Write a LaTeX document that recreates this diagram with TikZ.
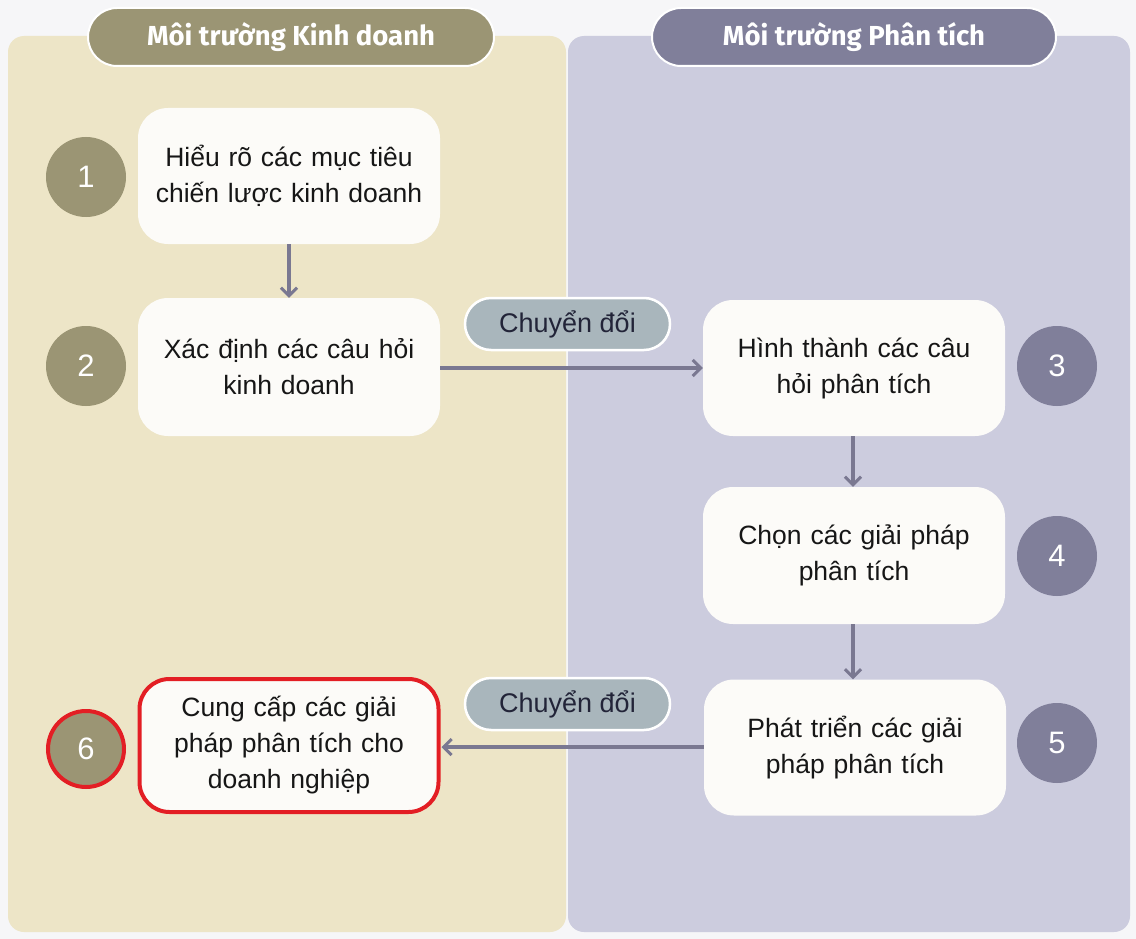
\documentclass[tikz,border=0pt]{standalone}
\usepackage{fontspec}
\setmainfont{Liberation Sans}
\newfontfamily\headfont{Fira Sans}
\usetikzlibrary{arrows.meta}
\definecolor{bgpage}{HTML}{F6F6F8}
\definecolor{leftpanel}{HTML}{EDE5C7}
\definecolor{rightpanel}{HTML}{CCCCDE}
\definecolor{olive}{HTML}{9B9574}
\definecolor{slate}{HTML}{807F9A}
\definecolor{boxwhite}{HTML}{FCFBF8}
\definecolor{pillfill}{HTML}{A9B6BC}
\definecolor{arrowc}{HTML}{7A7891}
\definecolor{hired}{HTML}{E31E24}
\definecolor{bodytext}{HTML}{161616}
\definecolor{pilltext}{HTML}{222438}
\tikzset{
  panel/.style={rounded corners=16pt, draw=none},
  header/.style={rounded corners=29pt, draw=white, line width=2pt, minimum width=406pt, minimum height=58pt,
     text=white, font=\headfont\bfseries\fontsize{27.5}{30}\selectfont, inner sep=0pt},
  stepbox/.style={rounded corners=30pt, fill=boxwhite, draw=none, minimum width=302pt, minimum height=136pt,
     text width=295pt, align=center, inner sep=0pt, text=bodytext, font=\fontsize{26.5}{36}\selectfont},
  numcirc/.style={circle, minimum size=80pt, inner sep=0pt, text=white, font=\fontsize{31}{31}\selectfont},
  pill/.style={rounded corners=26pt, fill=pillfill, draw=white, line width=2.5pt, minimum width=205pt, minimum height=52pt,
     inner sep=0pt, text=pilltext, font=\fontsize{27}{30}\selectfont},
  flow/.style={draw=arrowc, line width=3.2pt, -{Straight Barb[length=8pt,width=16pt,line width=3pt]}},
}
\begin{document}
\begin{tikzpicture}[x=1pt,y=-1pt]
\useasboundingbox (0,0) rectangle (1136,939);
\fill[bgpage] (0,0) rectangle (1136,939);
% panels
\path[panel, fill=leftpanel] (8,36) rectangle (566,932);
\path[panel, fill=rightpanel] (568,36) rectangle (1130,932);
% headers
\node[header, fill=olive] (hL) at (291,37) {Môi trường Kinh doanh};
\node[header, fill=slate, minimum width=404pt] (hR) at (854,37) {Môi trường Phân tích};
% boxes
\node[stepbox] (b1) at (289,176) {Hiểu rõ các mục tiêu\\chiến lược kinh doanh};
\node[stepbox, minimum height=138pt] (b2) at (289,367) {Xác định các câu hỏi\\kinh doanh};
\node[stepbox] (b3) at (854,368) {Hình thành các câu\\hỏi phân tích};
\node[stepbox, minimum height=137pt] (b4) at (854,555.5) {Chọn các giải pháp\\phân tích};
\node[stepbox] (b5) at (855,747.5) {Phát triển các giải\\pháp phân tích};
\node[stepbox, minimum height=133pt, minimum width=299pt, draw=hired, line width=4pt] (b6) at (289,745.5) {Cung cấp các giải\\pháp phân tích cho\\doanh nghiệp};
% number circles
\node[numcirc, fill=olive] (c1) at (86,177) {1};
\node[numcirc, fill=olive] (c2) at (86,366) {2};
\node[numcirc, fill=slate] (c3) at (1057,366) {3};
\node[numcirc, fill=slate] (c4) at (1057,556) {4};
\node[numcirc, fill=slate] (c5) at (1057,743) {5};
\node[numcirc, fill=olive, draw=hired, line width=4pt, minimum size=76pt] (c6) at (86,749) {6};
% pills
\node[pill] (p1) at (567.5,324) {Chuyển đổi};
\node[pill] (p2) at (567.5,704) {Chuyển đổi};
% connectors
\draw[flow] (b1.south) -- (b2.north);
\draw[flow] (b2.east |- 0,368) -- (b3.west |- 0,368);
\draw[flow] ([xshift=-1pt]b3.south) -- ([xshift=-1pt]b4.north);
\draw[flow] ([xshift=-1pt]b4.south) -- ([xshift=-2pt]b5.north);
\draw[flow] (b5.west |- 0,747) -- ([xshift=1pt]b6.east |- 0,747);
\end{tikzpicture}
\end{document}
